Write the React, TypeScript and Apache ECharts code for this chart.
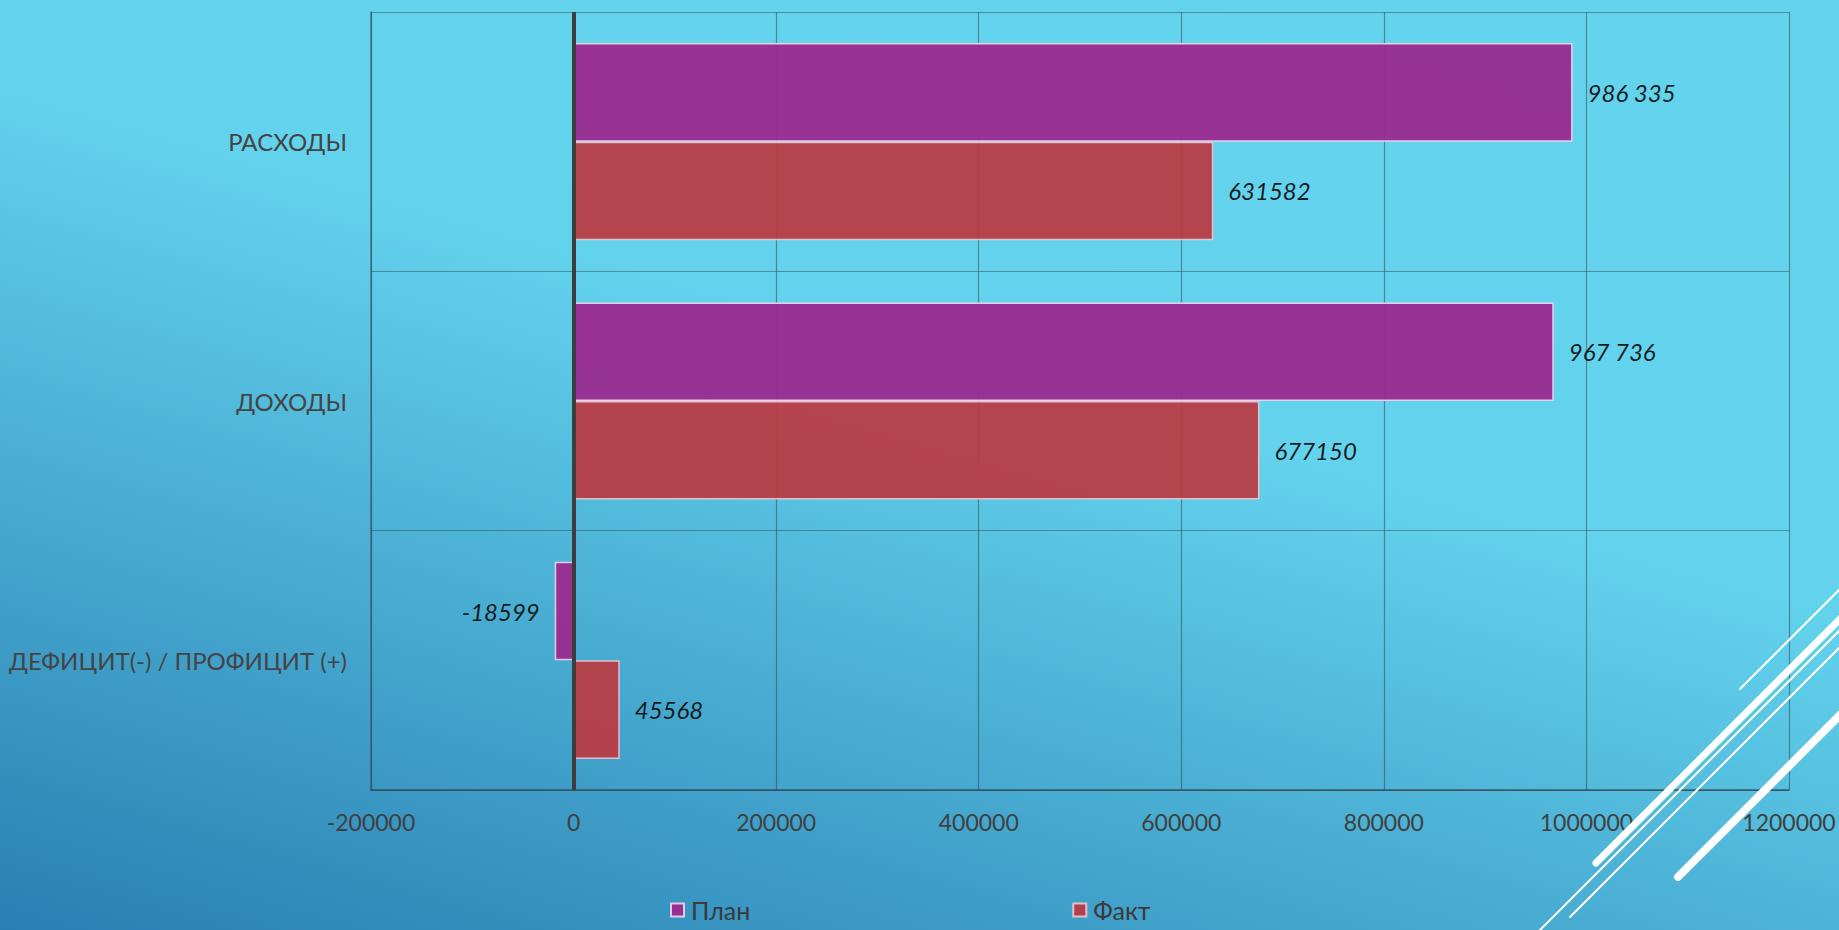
import React, { useEffect, useRef } from "react";
import * as echarts from "echarts";

const categories = ["ДЕФИЦИТ(-) / ПРОФИЦИТ (+)", "ДОХОДЫ", "РАСХОДЫ"];
const seriesNames = ["План", "Факт"];
const planValues = [-18599, 967736, 986335];
const factValues = [45568, 677150, 631582];
const planLabels = ["-18599", "967 736", "986 335"];
const factLabels = ["45568", "677150", "631582"];
const xMin = -200000;
const xMax = 1200000;
const xInterval = 200000;

const decoLines: { x1: number; y1: number; x2: number; y2: number; w: number }[] = [
  { x1: 1740, y1: 689, x2: 1860, y2: 569, w: 2 },
  { x1: 1596, y1: 863, x2: 1860, y2: 599, w: 7 },
  { x1: 1528, y1: 942, x2: 1860, y2: 610, w: 2 },
  { x1: 1570, y1: 917, x2: 1860, y2: 627, w: 2 },
  { x1: 1678, y1: 877, x2: 1860, y2: 695, w: 8 },
];

export default function App() {
  const ref = useRef<HTMLDivElement>(null);
  useEffect(() => {
    if (!ref.current) return;
    const chart = echarts.init(ref.current, undefined, { renderer: "svg" });
    const labelStyle = {
      show: true,
      distance: 15,
      color: "#111",
      fontStyle: "italic" as const,
      fontFamily: "Lato, 'Open Sans', sans-serif",
      fontSize: 24,
    };
    const mk = (vals: number[], labels: string[]) =>
      vals.map((v, i) => ({
        value: v,
        label: { position: v < 0 ? "left" : "right", formatter: labels[i] },
      }));
    chart.setOption({
      animation: false,
      backgroundColor: "transparent",
      grid: { left: 371, right: 50, top: 12, bottom: 140, containLabel: false },
      legend: {
        data: seriesNames,
        icon: "rect",
        left: 670,
        top: 896,
        padding: 0,
        itemWidth: 13,
        itemHeight: 13,
        itemGap: 322,
        textStyle: {
          color: "#3a3a3a",
          fontSize: 25,
          lineHeight: 28,
          fontFamily: "Lato, sans-serif",
          padding: [0, 0, 0, 2],
        },
      },
      xAxis: {
        type: "value",
        min: xMin,
        max: xMax,
        interval: xInterval,
        axisLine: { show: true, lineStyle: { color: "rgba(50,60,70,0.75)", width: 1.5 } },
        axisTick: { show: false },
        axisLabel: {
          color: "#404040",
          fontSize: 23,
          fontFamily: "Lato, sans-serif",
          margin: 20,
          formatter: (v: number) => String(v),
        },
        splitLine: { show: true, lineStyle: { color: "rgba(55,70,80,0.55)", width: 1.2 } },
      },
      yAxis: {
        type: "category",
        data: categories,
        axisLine: { show: true, onZero: false, lineStyle: { color: "rgba(50,70,80,0.6)", width: 1.5 } },
        axisTick: { show: false },
        axisLabel: { color: "#444", fontSize: 24, fontFamily: "Lato, sans-serif", margin: 24 },
        splitLine: { show: true, lineStyle: { color: "rgba(55,70,80,0.5)", width: 1.2 } },
      },
      series: [
        {
          name: seriesNames[0],
          type: "bar",
          data: mk(planValues, planLabels),
          barGap: "0%",
          barCategoryGap: "24%",
          itemStyle: { color: "#9b2a90", borderColor: "rgba(240,215,240,0.95)", borderWidth: 1.5, opacity: 0.95 },
          label: labelStyle,
        },
        {
          name: seriesNames[1],
          type: "bar",
          data: mk(factValues, factLabels),
          barGap: "0%",
          barCategoryGap: "24%",
          itemStyle: { color: "#b83c44", borderColor: "rgba(240,200,210,0.95)", borderWidth: 1.5, opacity: 0.95 },
          label: labelStyle,
        },
        {
          type: "line",
          data: [],
          z: 10,
          markLine: {
            silent: true,
            symbol: ["none", "none"],
            label: { show: false },
            lineStyle: { color: "#3d3d3d", width: 4, type: "solid" },
            data: [{ xAxis: 0 }],
          },
        },
      ],
      graphic: decoLines.map((l) => ({
        type: "line",
        z: 100,
        shape: { x1: l.x1, y1: l.y1, x2: l.x2, y2: l.y2 },
        style: { stroke: "#ffffff", lineWidth: l.w, lineCap: "round" },
      })),
    });
    return () => chart.dispose();
  }, []);
  return (
    <div
      ref={ref}
      style={{
        position: "fixed",
        left: 0,
        top: 0,
        width: 1839,
        height: 930,
        background: "linear-gradient(196deg, #64d4ee 0%, #63d3ed 42%, #2a7fb2 100%)",
      }}
    />
  );
}
